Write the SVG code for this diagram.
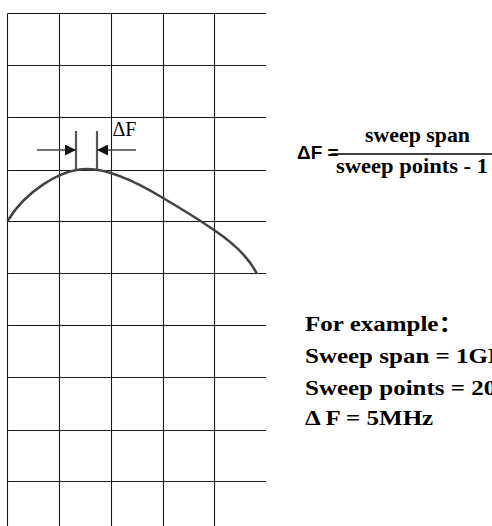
<svg xmlns="http://www.w3.org/2000/svg" width="492" height="526" viewBox="0 0 492 526">
<style>
.grid line{stroke:#1a1a1a;stroke-width:1.1}
.curve{fill:none;stroke:#444;stroke-width:2.6}
.tick{stroke:#555;stroke-width:2.2}
.arr{stroke:#444;stroke-width:1.6;fill:none}
.serif{font-family:"Liberation Serif","Times New Roman","Noto Sans CJK SC",serif;fill:#000}
.bold{font-weight:bold}
.sans{font-family:"Liberation Sans",Arial,sans-serif;font-weight:bold;fill:#000}
</style>
<defs>
<marker id="ah" viewBox="0 0 11 11" refX="11" refY="5.5" markerWidth="11" markerHeight="11" markerUnits="userSpaceOnUse" orient="auto">
<path d="M0,0 L11,5.5 L0,11 Z" fill="#111"/>
</marker>
</defs>
<rect width="492" height="526" fill="#fff"/>
<g id="grid" class="grid">
<line x1="7.5" y1="13.5" x2="7.5" y2="526"/>
<line x1="59.5" y1="13.5" x2="59.5" y2="526"/>
<line x1="111.5" y1="13.5" x2="111.5" y2="526"/>
<line x1="163.5" y1="13.5" x2="163.5" y2="526"/>
<line x1="214.5" y1="13.5" x2="214.5" y2="526"/>
<line x1="7.5" y1="13.5" x2="266" y2="13.5"/>
<line x1="7.5" y1="65.5" x2="266" y2="65.5"/>
<line x1="7.5" y1="117.5" x2="266" y2="117.5"/>
<line x1="7.5" y1="170.5" x2="266" y2="170.5"/>
<line x1="7.5" y1="221.5" x2="266" y2="221.5"/>
<line x1="7.5" y1="273.5" x2="266" y2="273.5"/>
<line x1="7.5" y1="325.5" x2="266" y2="325.5"/>
<line x1="7.5" y1="377.5" x2="266" y2="377.5"/>
<line x1="7.5" y1="430.5" x2="266" y2="430.5"/>
<line x1="7.5" y1="481.5" x2="266" y2="481.5"/>
</g>
<g id="curve">
<path class="curve" d="M7.5,221 C25,192 60,169 87,169 C110,169 140,184 163,198 C180,208 198,219 214,230 C232,242 248,256 257,274"/>
</g>
<g id="delta-marker">
<line class="tick" x1="76" y1="131" x2="76" y2="169"/>
<line class="tick" x1="97" y1="131" x2="97" y2="169"/>
<text class="serif" x="112.5" y="136" font-size="20">ΔF</text>
</g>
<g id="connectors">
<line class="arr" x1="37" y1="150" x2="76" y2="150" marker-end="url(#ah)"/>
<line class="arr" x1="136" y1="150" x2="97" y2="150" marker-end="url(#ah)"/>
</g>
<g id="formula">
<text class="sans" x="297" y="158.5" font-size="19">ΔF =</text>
<line x1="331" y1="154" x2="492" y2="154" stroke="#000" stroke-width="1.3"/>
<text class="serif bold" x="365" y="142" font-size="20" textLength="105" lengthAdjust="spacingAndGlyphs">sweep span</text>
<text class="serif bold" x="336" y="173" font-size="20" textLength="152" lengthAdjust="spacingAndGlyphs">sweep points - 1</text>
</g>
<g id="example" transform="translate(305,0) scale(1.19,1)">
<text class="serif bold" x="0" y="331" font-size="21">For example：</text>
<text class="serif bold" x="0" y="363" font-size="21">Sweep span = 1GHz</text>
<text class="serif bold" x="0" y="395" font-size="21">Sweep points = 201</text>
<text class="serif bold" x="0" y="425" font-size="21">Δ F = 5MHz</text>
</g>
</svg>
